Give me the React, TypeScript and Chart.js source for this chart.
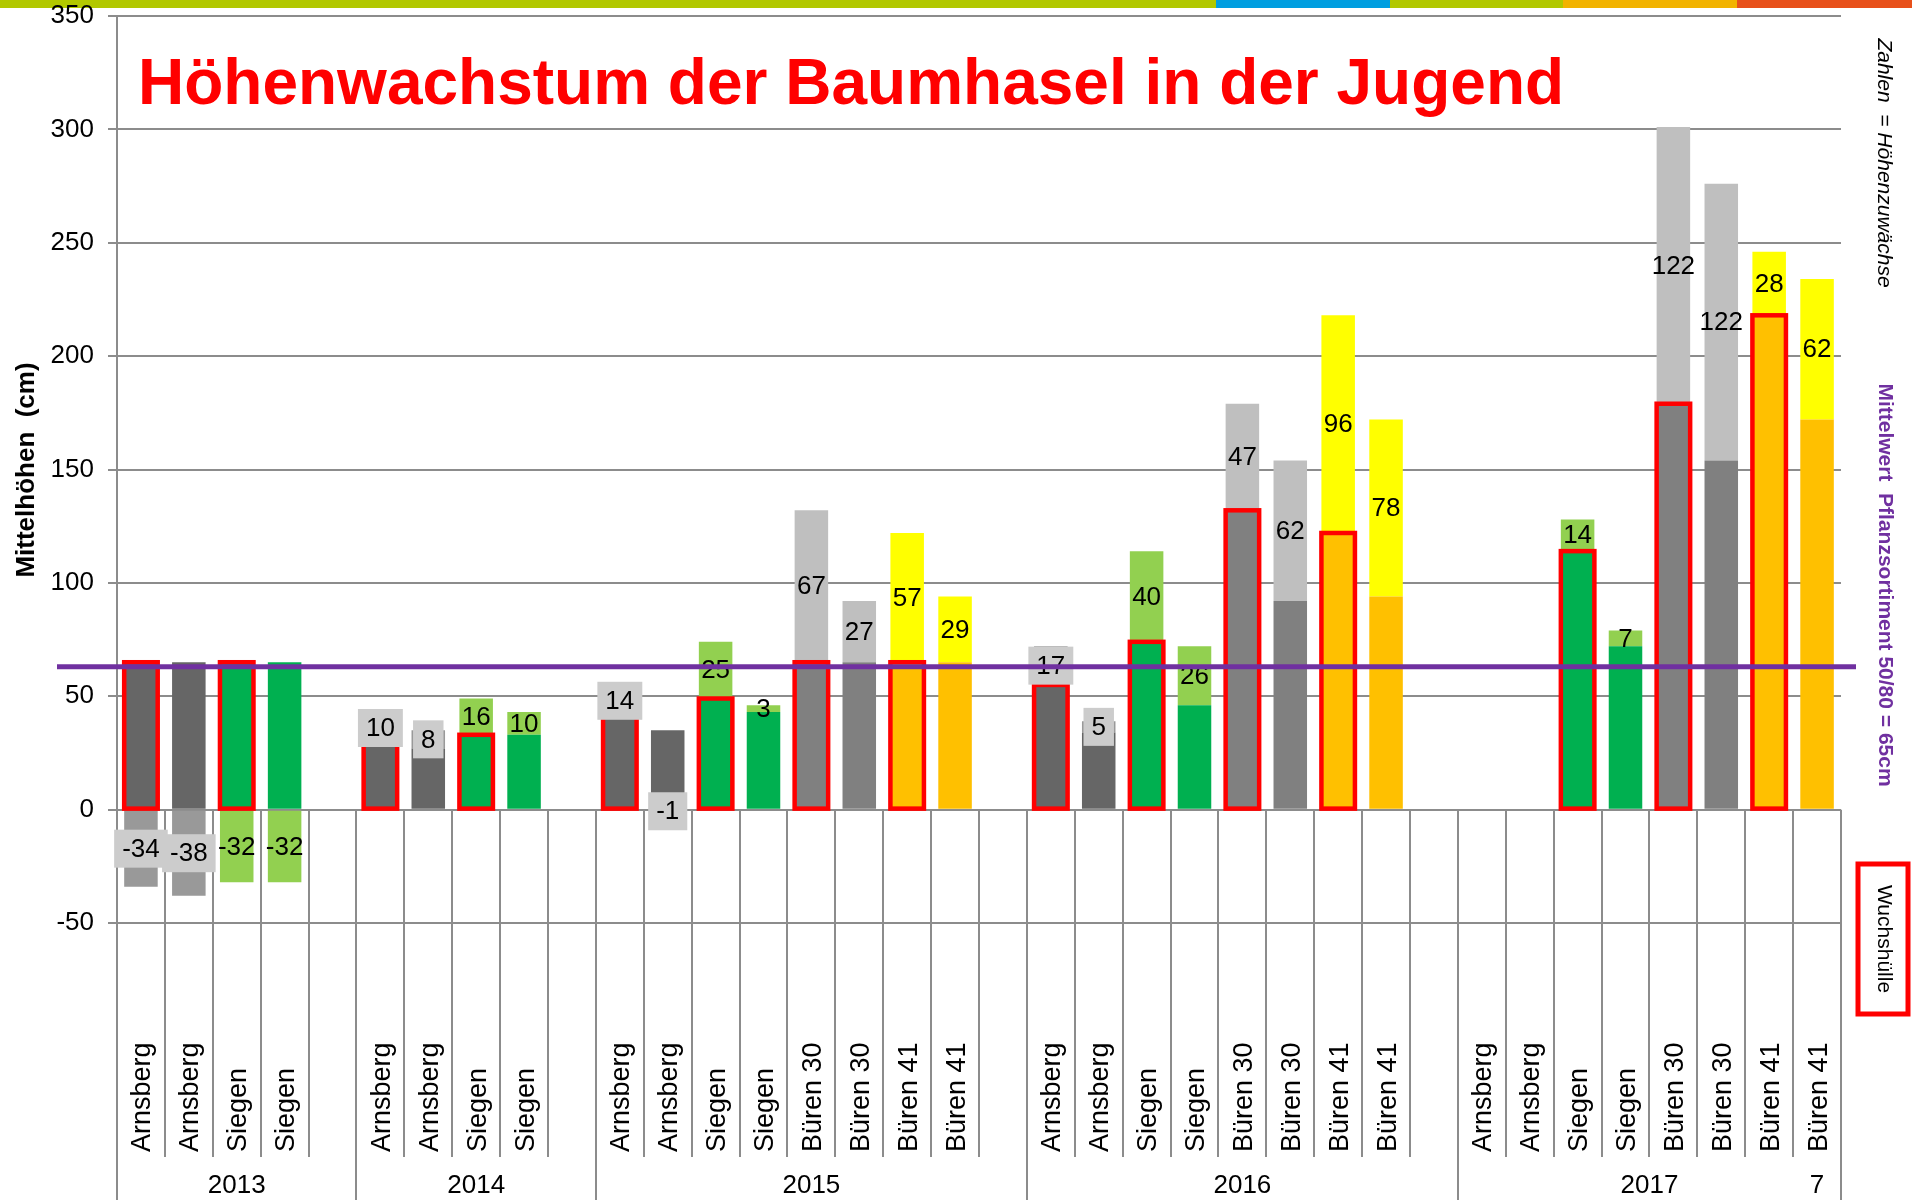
import React, { useEffect, useRef } from "react";
import { Chart, registerables } from "chart.js";

Chart.register(...registerables);

// ---------- data ----------
const categories = [
  "Arnsberg", "Arnsberg", "Siegen", "Siegen", "",
  "Arnsberg", "Arnsberg", "Siegen", "Siegen", "",
  "Arnsberg", "Arnsberg", "Siegen", "Siegen", "Büren 30", "Büren 30", "Büren 41", "Büren 41", "",
  "Arnsberg", "Arnsberg", "Siegen", "Siegen", "Büren 30", "Büren 30", "Büren 41", "Büren 41", "",
  "Arnsberg", "Arnsberg", "Siegen", "Siegen", "Büren 30", "Büren 30", "Büren 41", "Büren 41",
];

// height at start of the year (cm)
const baseHeights = [
  65, 65, 65, 65, null,
  31, 27, 33, 33, null,
  41, 35, 49, 43, 65, 65, 65, 65, null,
  55, 34, 74, 46, 132, 92, 122, 94, null,
  null, null, 114, 72, 179, 154, 218, 172,
];

// height increment of the year (cm)
const increments = [
  -34, -38, -32, -32, null,
  10, 8, 16, 10, null,
  14, -1, 25, 3, 67, 27, 57, 29, null,
  17, 5, 40, 26, 47, 62, 96, 78, null,
  null, null, 14, 7, 122, 122, 28, 62,
];

// Wuchshülle (growth tube) flags
const growthTube = [
  true, false, true, false, false,
  true, false, true, false, false,
  true, false, true, false, true, false, true, false, false,
  true, false, true, false, true, false, true, false, false,
  false, false, true, false, true, false, true, false,
];

const groupLabels = ["2013", "2014", "2015", "2016", "2017"];
const groupSizes = [5, 5, 9, 9, 8];
const trailingLabel = "7";

const yMin = -50;
const yMax = 350;
const yStep = 50;
const meanValue = 63;

const titleText = "Höhenwachstum der Baumhasel in der Jugend";
const yTitleText = "Mittelhöhen  (cm)";
const noteText = "Zahlen  = Höhenzuwächse";
const meanText = "Mittelwert  Pflanzsortiment 50/80 = 65cm";
const legendText = "Wuchshülle";

// ---------- styles ----------
const FONT = '"Liberation Sans", Arial, Helvetica, sans-serif';
const GRID = "#8c8c8c";

const siteStyles: Record<string, { base: string; inc: string; box: string | null }> = {
  Arnsberg: { base: "#666666", inc: "#999999", box: "#cccccc" },
  Siegen: { base: "#00b050", inc: "#92d050", box: null },
  "Büren 30": { base: "#808080", inc: "#bfbfbf", box: null },
  "Büren 41": { base: "#ffc000", inc: "#ffff00", box: null },
  "": { base: "#ffffff", inc: "#ffffff", box: null },
};

const baseColors = categories.map((c) => siteStyles[c].base);
const incColors = categories.map((c) => siteStyles[c].inc);

const stripe: [string, number, number][] = [
  ["#b2c800", 0, 1216],
  ["#009ee0", 1216, 1390],
  ["#b2c800", 1390, 1563],
  ["#f2b300", 1563, 1737],
  ["#e8501a", 1737, 1912],
];

const decorPlugin = {
  id: "decor",
  beforeDraw(chart: any) {
    const ctx = chart.ctx;
    ctx.save();
    stripe.forEach(([c, x0, x1]) => {
      ctx.fillStyle = c;
      ctx.fillRect(x0, 0, x1 - x0, 8);
    });
    ctx.restore();
  },
  beforeDatasetsDraw(chart: any) {
    const ctx = chart.ctx;
    const xs = chart.scales.x;
    const ys = chart.scales.y;
    const y0 = ys.getPixelForValue(0);
    const n = categories.length;
    const half = (xs.getPixelForValue(1) - xs.getPixelForValue(0)) / 2;
    const groupEdges = new Set<number>([0]);
    let acc = 0;
    groupSizes.forEach((s) => {
      acc += s;
      groupEdges.add(acc);
    });
    ctx.save();
    ctx.strokeStyle = GRID;
    ctx.lineWidth = 2;
    for (let i = 0; i <= n; i++) {
      const bx = i < n ? xs.getPixelForValue(i) - half : xs.getPixelForValue(n - 1) + half;
      const bottom = groupEdges.has(i) ? 1200 : 1157;
      ctx.beginPath();
      ctx.moveTo(Math.round(bx), y0);
      ctx.lineTo(Math.round(bx), bottom);
      ctx.stroke();
    }
    ctx.restore();
  },
  afterDatasetsDraw(chart: any) {
    const ctx = chart.ctx;
    const baseMeta = chart.getDatasetMeta(0);
    const incMeta = chart.getDatasetMeta(1);
    const ys = chart.scales.y;
    ctx.save();
    // growth tube outlines
    ctx.strokeStyle = "#ff0000";
    ctx.lineWidth = 4.5;
    baseMeta.data.forEach((el: any, i: number) => {
      if (!growthTube[i] || baseHeights[i] == null) return;
      const w = el.width;
      ctx.strokeRect(el.x - w / 2, el.y, w, el.base - el.y);
    });
    // increment labels
    ctx.font = `26px ${FONT}`;
    ctx.textAlign = "center";
    ctx.textBaseline = "middle";
    incMeta.data.forEach((el: any, i: number) => {
      const v = increments[i];
      if (v == null) return;
      const txt = String(v);
      const cy = (el.y + el.base) / 2;
      const st = siteStyles[categories[i]];
      if (st.box) {
        const tw = ctx.measureText(txt).width;
        ctx.fillStyle = st.box;
        ctx.fillRect(el.x - tw / 2 - 8, cy - 19, tw + 16, 38);
      }
      ctx.fillStyle = "#000000";
      ctx.fillText(txt, el.x, cy + 1);
    });
    // mean line
    const my = ys.getPixelForValue(meanValue);
    ctx.strokeStyle = "#7030a0";
    ctx.lineWidth = 5;
    ctx.beginPath();
    ctx.moveTo(57, my);
    ctx.lineTo(1856, my);
    ctx.stroke();
    ctx.restore();
  },
  afterDraw(chart: any) {
    const ctx = chart.ctx;
    const xs = chart.scales.x;
    const ca = chart.chartArea;
    ctx.save();
    // title
    ctx.fillStyle = "#ff0000";
    ctx.font = `bold 64px ${FONT}`;
    ctx.textAlign = "left";
    ctx.textBaseline = "alphabetic";
    ctx.fillText(titleText, ca.left + 21, 104);

    // y axis title
    ctx.save();
    ctx.translate(27, 470);
    ctx.rotate(-Math.PI / 2);
    ctx.fillStyle = "#000000";
    ctx.font = `bold 26px ${FONT}`;
    ctx.textAlign = "center";
    ctx.textBaseline = "middle";
    ctx.fillText(yTitleText, 0, 0);
    ctx.restore();

    // category labels
    ctx.font = `27px ${FONT}`;
    ctx.fillStyle = "#000000";
    categories.forEach((c, i) => {
      if (!c) return;
      ctx.save();
      ctx.translate(xs.getPixelForValue(i) + 2, 1152);
      ctx.rotate(-Math.PI / 2);
      ctx.textAlign = "left";
      ctx.textBaseline = "middle";
      ctx.fillText(c, 0, 0);
      ctx.restore();
    });

    // group labels
    ctx.font = `26px ${FONT}`;
    ctx.textAlign = "center";
    ctx.textBaseline = "middle";
    const half = (xs.getPixelForValue(1) - xs.getPixelForValue(0)) / 2;
    let start = 0;
    groupLabels.forEach((g, k) => {
      const end = start + groupSizes[k] - 1;
      const cx = (xs.getPixelForValue(start) - half + xs.getPixelForValue(end) + half) / 2;
      ctx.fillText(g, cx, 1186);
      start = end + 1;
    });
    ctx.fillText(trailingLabel, xs.getPixelForValue(categories.length - 1), 1186);

    // right side notes
    const vtext = (txt: string, x: number, y: number, font: string, color: string) => {
      ctx.save();
      ctx.translate(x, y);
      ctx.rotate(Math.PI / 2);
      ctx.font = font;
      ctx.fillStyle = color;
      ctx.textAlign = "center";
      ctx.textBaseline = "middle";
      ctx.fillText(txt, 0, 0);
      ctx.restore();
    };
    vtext(noteText, 1884, 163, `italic 21px ${FONT}`, "#000000");
    vtext(meanText, 1885, 585, `bold 21px ${FONT}`, "#7030a0");
    vtext(legendText, 1884, 939, `21px ${FONT}`, "#000000");
    ctx.strokeStyle = "#ff0000";
    ctx.lineWidth = 5;
    ctx.strokeRect(1858, 864, 50, 150);
    ctx.restore();
  },
};

export default function App() {
  const canvasRef = useRef<HTMLCanvasElement | null>(null);

  useEffect(() => {
    const canvas = canvasRef.current;
    if (!canvas) return;
    const chart = new Chart(canvas, {
      type: "bar",
      data: {
        labels: categories,
        datasets: [
          {
            label: "Höhe",
            data: baseHeights as any,
            backgroundColor: baseColors,
            barPercentage: 0.7,
            categoryPercentage: 1,
          },
          {
            label: "Höhenzuwachs",
            data: increments as any,
            backgroundColor: incColors,
            barPercentage: 0.7,
            categoryPercentage: 1,
          },
        ],
      },
      options: {
        responsive: false,
        animation: false,
        devicePixelRatio: 1,
        layout: { padding: { top: 16, bottom: 277, right: 71, left: 0 } },
        plugins: {
          legend: { display: false },
          tooltip: { enabled: false },
          title: { display: false },
        },
        scales: {
          x: { stacked: true, display: false, offset: true },
          y: {
            stacked: true,
            min: yMin,
            max: yMax,
            ticks: {
              stepSize: yStep,
              color: "#000000",
              padding: 14,
              font: { size: 26, family: FONT },
            },
            grid: { color: GRID, lineWidth: 2, tickLength: 9 },
            border: { color: GRID, width: 2 },
            afterFit: (s: any) => {
              s.width = 117;
              s.paddingTop = 0;
              s.paddingBottom = 0;
            },
          },
        },
      },
      plugins: [decorPlugin],
    } as any);
    return () => chart.destroy();
  }, []);

  return (
    <div style={{ position: "fixed", left: 0, top: 0, width: 1912, height: 1200, background: "#ffffff" }}>
      <canvas ref={canvasRef} width={1912} height={1200} style={{ width: 1912, height: 1200, display: "block" }} />
    </div>
  );
}
